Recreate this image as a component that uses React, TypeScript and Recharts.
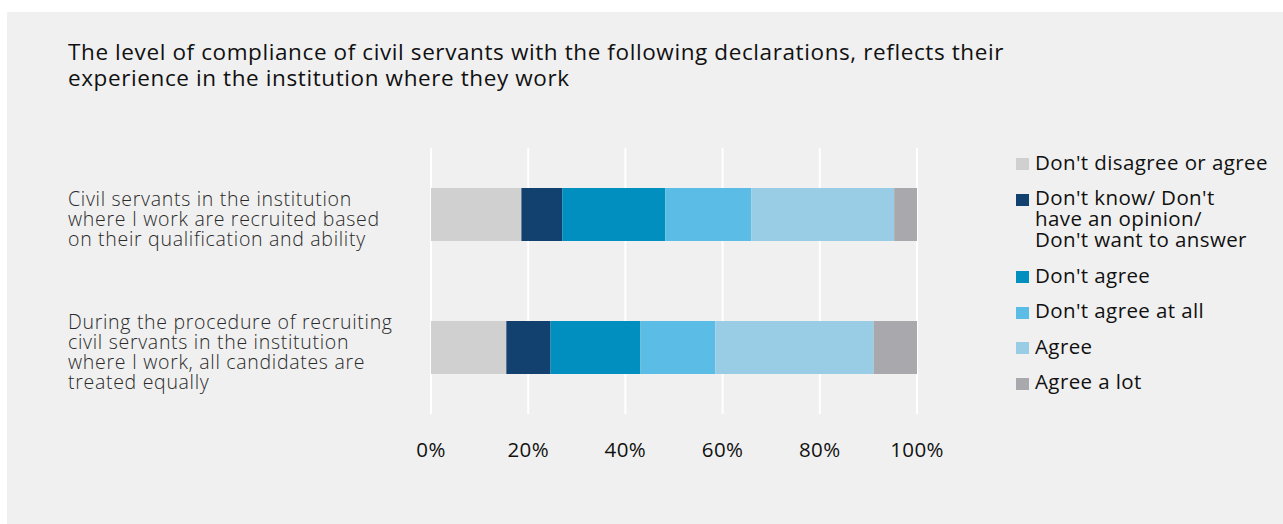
import React from 'react';
import { BarChart, Bar, XAxis, YAxis, CartesianGrid } from 'recharts';

const STATEMENTS = [
  ['Civil servants in the institution', 'where I work are recruited based', 'on their qualification and ability'],
  ['During the procedure of recruiting', 'civil servants in the institution', 'where I work, all candidates are', 'treated equally'],
];

const SERIES = [
  "Don't disagree or agree",
  "Don't know/ Don't have an opinion/ Don't want to answer",
  "Don't agree",
  "Don't agree at all",
  'Agree',
  'Agree a lot',
];

const LEGEND_LINES = [
  ["Don't disagree or agree"],
  ["Don't know/ Don't", 'have an opinion/', "Don't want to answer"],
  ["Don't agree"],
  ["Don't agree at all"],
  ['Agree'],
  ['Agree a lot'],
];

// percentages per statement, in series order
const NEUTRAL = [18.6, 15.5];
const DONT_KNOW = [8.4, 9.1];
const DISAGREE = [21.2, 18.5];
const DISAGREE_ALL = [17.7, 15.4];
const AGREE = [29.4, 32.6];
const AGREE_LOT = [4.7, 8.9];

const X_TICKS = [0, 20, 40, 60, 80, 100];

const COLORS = ['#d0d0d0', '#124170', '#008fbf', '#5bbde5', '#99cde6', '#a9a9ad'];

const FONT = '"Open Sans", Lato, sans-serif';

const data = STATEMENTS.map((_, i) => ({
  idx: i,
  s0: NEUTRAL[i],
  s1: DONT_KNOW[i],
  s2: DISAGREE[i],
  s3: DISAGREE_ALL[i],
  s4: AGREE[i],
  s5: AGREE_LOT[i],
}));

function StatementTick({ y, payload }: any) {
  const lines = STATEMENTS[payload.value] ?? [];
  const lh = 20;
  const first = y + 5 - ((lines.length - 1) * lh) / 2 + 6;
  return (
    <text x={61} y={first} textAnchor="start" fontFamily={FONT} fontWeight={300} fontSize={19.5}
      letterSpacing={0.7} fill="#2a2a2a">
      {lines.map((l, i) => (
        <tspan key={i} x={61} y={first + i * lh}>{l}</tspan>
      ))}
    </text>
  );
}

function LegendBox() {
  return (
    <div style={{ position: 'absolute', left: 1009, top: 139.5, fontFamily: FONT, fontSize: 20.5, letterSpacing: 0.4, color: '#111' }}>
      {LEGEND_LINES.map((lines, i) => (
        <div key={i} style={{ display: 'flex', alignItems: 'flex-start', marginBottom: 14.5 }}>
          <div style={{ width: 13, height: 12, background: COLORS[i], marginTop: 6.5, marginRight: 6, flexShrink: 0 }} />
          <div style={{ lineHeight: '21px', whiteSpace: 'nowrap' }}>
            {lines.map((l, j) => <div key={j}>{l}</div>)}
          </div>
        </div>
      ))}
    </div>
  );
}

export default function App() {
  return (
    <div style={{ position: 'absolute', left: 7, top: 12, width: 1276, height: 512, background: '#f0f0f0' }}>
      <div style={{ position: 'absolute', left: 61, top: 27, fontFamily: FONT, fontSize: 22.5, letterSpacing: 0.6, lineHeight: '26px', color: '#111', whiteSpace: 'nowrap' }}>
        The level of compliance of civil servants with the following declarations, reflects their<br />
        experience in the institution where they work
      </div>
      <BarChart width={1276} height={512} data={data} layout="vertical" barSize={53}
        margin={{ top: 136, right: 366, left: 0, bottom: 0 }}>
        <CartesianGrid horizontal={false} stroke="#ffffff" strokeWidth={2} />
        <XAxis type="number" domain={[0, 100]} ticks={X_TICKS} tickFormatter={(v) => `${v}%`}
          axisLine={false} tickLine={false} height={110} dy={20}
          tick={{ fontSize: 20.5, fill: '#111', fontFamily: FONT, letterSpacing: 0.4 }} />
        <YAxis type="category" dataKey="idx" width={424} axisLine={false} tickLine={false}
          tick={<StatementTick />} />
        {SERIES.map((name, i) => (
          <Bar key={name} name={name} dataKey={`s${i}`} stackId="a" fill={COLORS[i]} isAnimationActive={false} />
        ))}
      </BarChart>
      <LegendBox />
    </div>
  );
}
